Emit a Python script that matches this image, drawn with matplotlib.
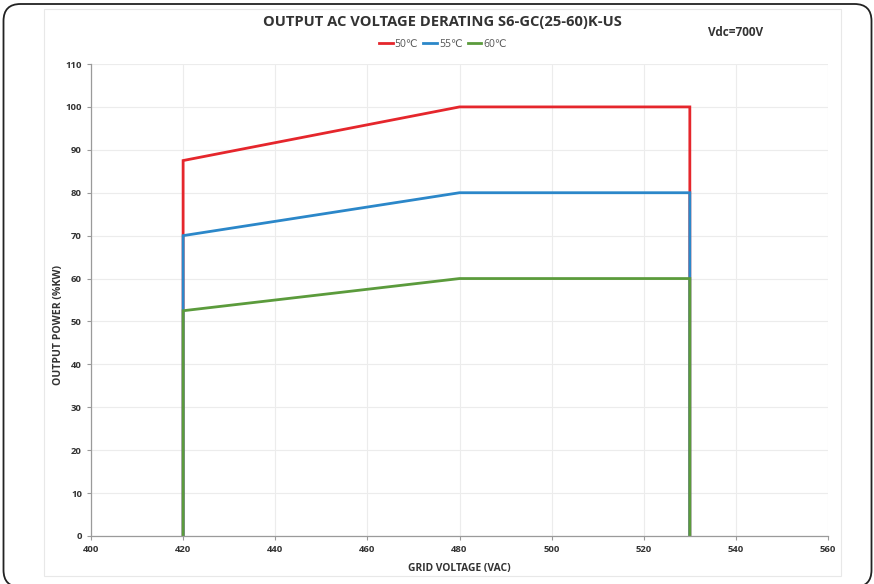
import matplotlib
matplotlib.use("Agg")
import matplotlib.pyplot as plt
from matplotlib.patches import FancyBboxPatch, Rectangle

plt.rcParams['font.family'] = ['Open Sans', 'DejaVu Sans']

voltage = [420, 420, 480, 530, 530]
p50 = [0, 87.5, 100, 100, 0]
p55 = [0, 70, 80, 80, 0]
p60 = [0, 52.5, 60, 60, 0]
labels = ['50℃', '55℃', '60℃']
colors = ['#e5262c', '#2b87c9', '#5b9b3c']

fig = plt.figure(figsize=(8.74, 5.84), dpi=100)

# outer rounded frame (inches) and the light inner chart box
fig.patches.append(FancyBboxPatch((0.035, -0.03), 8.68, 5.83, transform=fig.dpi_scale_trans,
                                  boxstyle="round,pad=0,rounding_size=0.17",
                                  fill=False, edgecolor='#222222', linewidth=1.3))
fig.patches.append(Rectangle((0.05, 0.014), 0.912, 0.97, transform=fig.transFigure,
                             fill=False, edgecolor='#e8e8e8', linewidth=0.8))

ax = fig.add_axes([0.1041, 0.0822, 0.8433, 0.8082])
for y, c, l in zip([p50, p55, p60], colors, labels):
    ax.plot(voltage, y, color=c, lw=2.0, label=l, solid_joinstyle='miter')

ax.set_xlim(400, 560)
ax.set_ylim(0, 110)
ax.set_xticks(range(400, 561, 20))
ax.set_yticks(range(0, 111, 10))
ax.grid(True, color='#ececec', lw=0.8)
ax.set_axisbelow(True)
for s in ['top', 'right']:
    ax.spines[s].set_visible(False)
for s in ['left', 'bottom']:
    ax.spines[s].set_color('#9a9a9a')
    ax.spines[s].set_linewidth(0.9)
ax.tick_params(colors='#9a9a9a', length=3, labelsize=6.8, labelcolor='#333333')
for t in ax.get_xticklabels() + ax.get_yticklabels():
    t.set_fontweight('bold')

ax.set_xlabel('GRID VOLTAGE (VAC)', fontsize=7.4, fontweight='bold', color='#333333')
ax.set_ylabel('OUTPUT POWER (%KW)', fontsize=7.6, fontweight='bold', color='#333333')
ax.xaxis.set_label_coords(0.50, -0.058)
ax.yaxis.set_label_coords(-0.037, 0.447)

fig.text(0.506, 0.962, 'OUTPUT AC VOLTAGE DERATING S6-GC(25-60)K-US', ha='center', va='center',
         fontsize=10.6, fontweight='bold', color='#333333')
fig.text(0.842, 0.945, 'Vdc=700V', ha='center', va='center', fontsize=8.5,
         fontweight='bold', color='#333333')
fig.legend(loc='center', bbox_to_anchor=(0.507, 0.924), ncol=3, frameon=False,
           fontsize=7.5, handlelength=1.3, handletextpad=0.2, columnspacing=0.5,
           labelcolor='#555555')

fig.savefig('out.png', dpi=100)
